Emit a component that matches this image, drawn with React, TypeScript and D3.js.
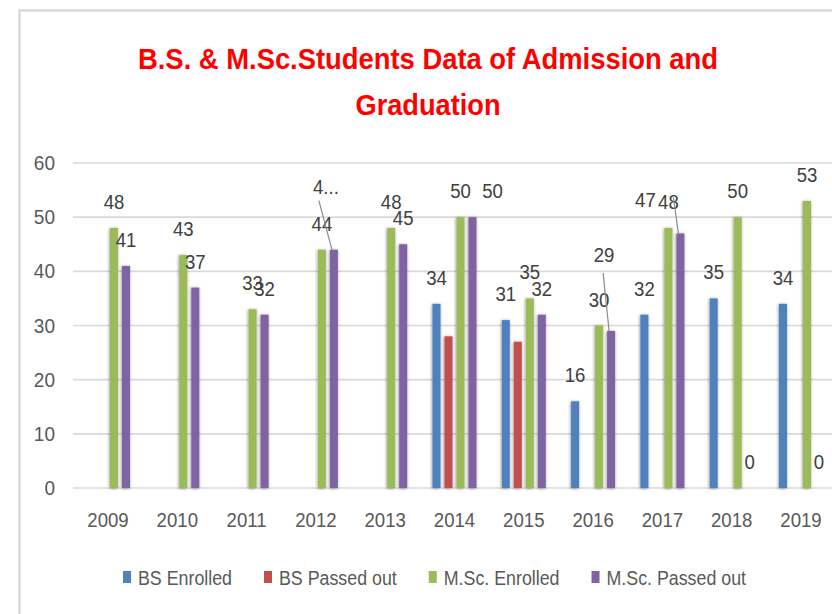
import {useEffect, useRef} from 'react'
import * as d3 from 'd3'

// chart data
const years = ['2009', '2010', '2011', '2012', '2013', '2014', '2015', '2016', '2017', '2018', '2019']
const bsEnrolled = [null, null, null, null, null, 34, 31, 16, 32, 35, 34]
const bsPassedOut = [null, null, null, null, null, 28, 27, null, null, null, null]
const mscEnrolled = [48, 43, 33, 44, 48, 50, 35, 30, 48, 50, 53]
const mscPassedOut = [41, 37, 32, 44, 45, 50, 32, 29, 47, 0, 0]
const yTicks = [0, 10, 20, 30, 40, 50, 60]

const seriesNames = ['BS Enrolled', 'BS Passed out', 'M.Sc. Enrolled', 'M.Sc. Passed out']
const seriesColors = ['#4f81bd', '#c0504d', '#9bbb59', '#8064a2']
const seriesLabelled = [true, false, true, true]
const titleLines = ['B.S. & M.Sc.Students Data of Admission and', 'Graduation']

// labels that were dragged away from their bars in the original (with leader lines)
const labelMoves: Record<string, {dx: number, dy: number, text?: string, leader?: [number, number]}> = {
    '3|2012': {dx: -8, dy: -37, text: '4...', leader: [-7, 7]},
    '3|2014': {dx: 20, dy: 0},
    '3|2016': {dx: -7, dy: -50, leader: [-1, 11]},
    '3|2017': {dx: -35, dy: -7, leader: [28, -10]},
}

const FONT = '"Liberation Sans Narrow", "Arial Narrow", "Liberation Sans", sans-serif'

//The original font is a narrow one, squeeze the text horizontally to get close
function squeeze(sel, factor){
    const w = sel.node().getComputedTextLength() * factor
    sel.attr('textLength', w).attr('lengthAdjust', 'spacingAndGlyphs')
    return w
}

function App(){
    const svg = useRef(null)

    useEffect(() => {
        const data = [bsEnrolled, bsPassedOut, mscEnrolled, mscPassedOut]
        const width = 832
        const height = 614

        const xScale = d3.scaleBand()
            .domain(years)
            .range([73.35, 835.65])

        const innerScale = d3.scaleBand()
            .domain(seriesNames)
            .range([0, 48])
            .paddingInner(1 / 3)
            .paddingOuter(1 / 6)

        const yScale = d3.scaleLinear()
            .domain([0, 60])
            .range([488, 163])

        const svgRef = d3.select(svg.current)
            .attr('width', width)
            .attr('height', height)
            .style('position', 'absolute')
            .style('left', 0)
            .style('top', 0)
            .style('font-family', FONT)

        svgRef.selectAll('*').remove()

        const defs = svgRef.append('defs')
        const shadow = defs.append('filter')
            .attr('id', 'barShadow')
            .attr('x', '-50%').attr('y', '-10%')
            .attr('width', '200%').attr('height', '120%')
        shadow.append('feDropShadow')
            .attr('dx', -0.5).attr('dy', 0.5)
            .attr('stdDeviation', 1.4)
            .attr('flood-color', '#000')
            .attr('flood-opacity', 0.45)

        svgRef.append('rect')
            .attr('width', width)
            .attr('height', height)
            .attr('fill', '#fff')

        //Chart border (only the top and left sides are in the picture)
        svgRef.append('path')
            .attr('d', 'M19.5,614 V10.5 H832')
            .attr('fill', 'none')
            .attr('stroke', '#d9d9d9')
            .attr('stroke-width', 2.5)

        //Title
        const title = svgRef.append('g')
        const titleWidths = [580, 145]
        titleLines.forEach((line, i) => {
            title.append('text')
                .attr('x', 428)
                .attr('y', 69 + i * 46)
                .attr('text-anchor', 'middle')
                .attr('fill', '#ff0000')
                .attr('textLength', titleWidths[i])
                .attr('lengthAdjust', 'spacingAndGlyphs')
                .style('font', `bold 29px ${FONT}`)
                .text(line)
        })

        //Gridlines and y tick labels
        const grid = svgRef.append('g')
        grid.selectAll('line')
            .data(yTicks)
            .join('line')
                .attr('x1', 73)
                .attr('x2', width)
                .attr('y1', d => yScale(d))
                .attr('y2', d => yScale(d))
                .attr('stroke', '#d9d9d9')
                .attr('stroke-width', 1.6)
        grid.selectAll('text')
            .data(yTicks)
            .join('text')
                .attr('x', 55)
                .attr('y', d => yScale(d) + 7)
                .attr('text-anchor', 'end')
                .attr('fill', '#595959')
                .style('font-size', '20px')
                .text(d => d)
                .each(function(){ squeeze(d3.select(this), 0.95) })

        //Year labels
        svgRef.append('g').selectAll('text')
            .data(years)
            .join('text')
                .attr('x', d => xScale(d) + xScale.bandwidth() / 2)
                .attr('y', 527)
                .attr('text-anchor', 'middle')
                .attr('fill', '#595959')
                .style('font-size', '20px')
                .text(d => d)
                .each(function(){ squeeze(d3.select(this), 0.93) })

        //Bars
        const groupOffset = (xScale.bandwidth() - 48) / 2
        const barX = (s, i) => xScale(years[i]) + groupOffset + innerScale(seriesNames[s])
        const bars = svgRef.append('g')
        data.forEach((values, s) => {
            bars.append('g')
                .attr('filter', 'url(#barShadow)')
                .selectAll('rect')
                .data(values.map((v, i) => ({v, i})).filter(d => d.v !== null))
                .join('rect')
                    .attr('x', d => barX(s, d.i))
                    .attr('y', d => yScale(d.v))
                    .attr('width', innerScale.bandwidth())
                    .attr('height', d => yScale(0) - yScale(d.v))
                    .attr('fill', seriesColors[s])
        })

        //Data labels
        const labels = svgRef.append('g')
        data.forEach((values, s) => {
            if(!seriesLabelled[s]){
                return
            }
            values.forEach((v, i) => {
                if(v === null){
                    return
                }
                const cx = barX(s, i) + innerScale.bandwidth() / 2
                const top = yScale(v)
                const move = labelMoves[`${s}|${years[i]}`] || {dx: 0, dy: 0}
                const lx = cx + move.dx
                const ly = top - 19 + move.dy
                if(move.leader){
                    labels.append('line')
                        .attr('x1', lx + move.leader[0])
                        .attr('y1', ly + move.leader[1])
                        .attr('x2', cx - 2)
                        .attr('y2', top)
                        .attr('stroke', '#8c8c8c')
                        .attr('stroke-width', 1.2)
                }
                const t = labels.append('text')
                    .attr('x', lx)
                    .attr('y', ly)
                    .attr('text-anchor', 'middle')
                    .attr('fill', '#404040')
                    .style('font-size', '20px')
                    .text(move.text || v)
                squeeze(t, 0.93)
            })
        })

        //Legend
        const legend = svgRef.append('g')
        let lx = 123
        seriesNames.forEach((name, s) => {
            legend.append('rect')
                .attr('x', lx)
                .attr('y', 571)
                .attr('width', 8)
                .attr('height', 12)
                .attr('fill', seriesColors[s])
            const t = legend.append('text')
                .attr('x', lx + 15)
                .attr('y', 585)
                .attr('fill', '#595959')
                .style('font-size', '20px')
                .text(name)
            const w = squeeze(t, 0.89)
            lx += 15 + w + 32
        })
    }, [])

    return(
        <svg ref={svg}></svg>
    )
}

export default App
